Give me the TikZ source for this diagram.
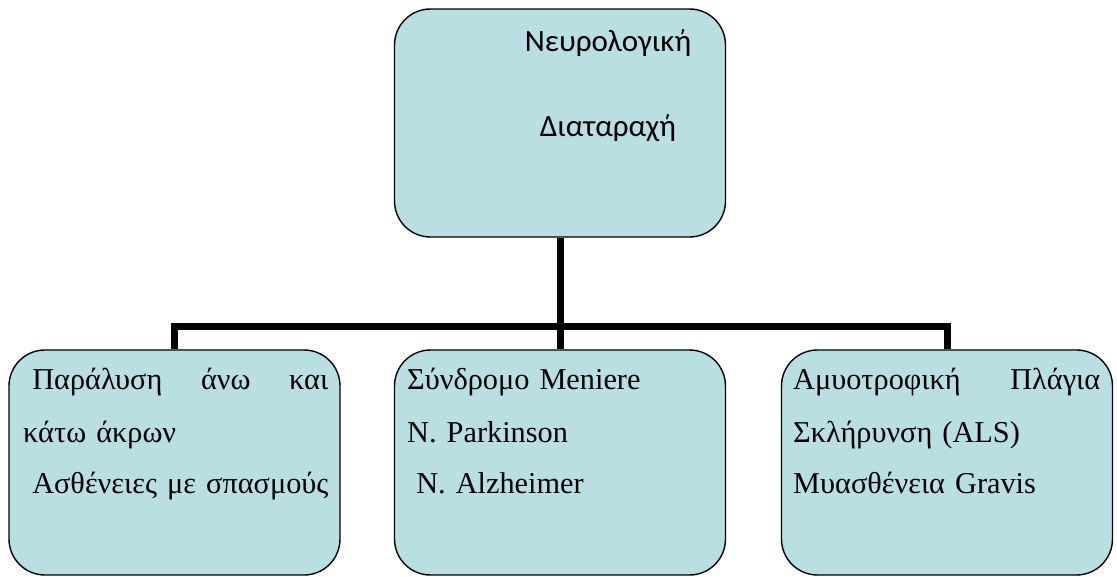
\documentclass[tikz,border=0pt]{standalone}
\usepackage{fontspec}
\setmainfont{Liberation Serif}
\newfontfamily\carlitofont{Carlito}
\usetikzlibrary{positioning}
\definecolor{boxblue}{HTML}{B9DFE3}

\begin{document}
\begin{tikzpicture}[x=1pt,y=-1pt,
  box/.style={rectangle,rounded corners=36pt,draw=black,line width=1.4pt,
              fill=boxblue,minimum width=331pt,minimum height=225pt,inner sep=0pt},
  headtxt/.style={font=\carlitofont\fontsize{31}{85}\selectfont,
                  align=center,anchor=base,inner sep=0pt},
  itemtxt/.style={font=\fontsize{30.3}{52}\selectfont,align=left,
                  anchor=base west,inner sep=0pt},
  link/.style={line width=7pt,black}
]
  \useasboundingbox (0,0) rectangle (1117,577);

  % ---- Boxes -------------------------------------------------
  \node[box,minimum height=228pt] (disorder) at (560,123) {};
  \node[box] (limbs)     at (174.5,462.5) {};
  \node[box] (syndromes) at (560,462.5) {};
  \node[box] (als)       at (947,462.5) {};

  % ---- Texts -------------------------------------------------
  % (base of a centred block sits on its last line)
  \node[headtxt] (disorder-text) at (608,137)
    {Νευρολογική\\Διαταραχή};
  \node[itemtxt,text width=305pt] (limbs-text) at (23,390)
    {\hspace*{0.3em}Παράλυση\hfill άνω\hfill και\\
     κάτω άκρων\\
     \mbox{\hspace*{0.3em}Ασθένειες με σπασμούς}};
  \node[itemtxt,text width=300pt] (syndromes-text) at (407,390)
    {Σύνδρομο Meniere\\
     N. Parkinson\\
     \hspace*{0.3em}N. Alzheimer};
  \node[itemtxt,text width=307pt] (als-text) at (793,390)
    {Αμυοτροφική\hfill Πλάγια\\
     Σκλήρυνση (ALS)\\
     Μυασθένεια Gravis};

  % ---- Connectors --------------------------------------------
  \coordinate (bus) at (560,327);
  \draw[link] (disorder.south) -- (bus) -- (syndromes.north);
  \draw[link] (limbs.north) |- (bus) -| (als.north);

\end{tikzpicture}
\end{document}
